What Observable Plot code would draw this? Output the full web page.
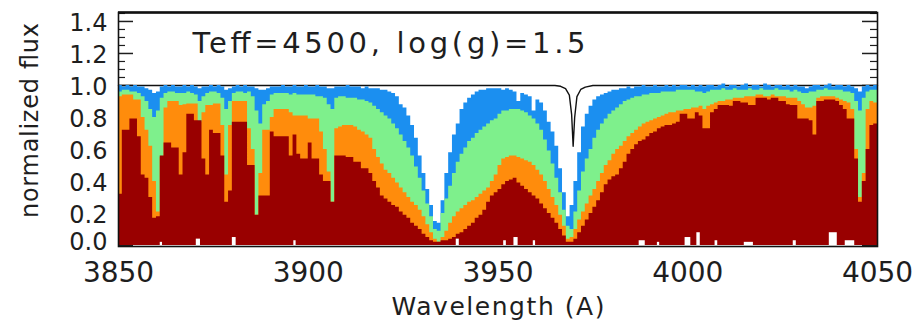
<!DOCTYPE html>
<html><head><meta charset="utf-8">
<script src="https://cdn.jsdelivr.net/npm/d3@7"></script>
<script src="https://cdn.jsdelivr.net/npm/@observablehq/plot@0.6"></script>
<style>body{margin:0;background:#fff}#chart svg{display:block}</style>
</head><body><div id="chart"></div>
<script>
// wavelength grid (Angstrom), one sample per Angstrom from 3850 to 4050
const waveStart = 3850, waveStep = 1;

// four model spectra (normalized flux)
const blueFlux = [
1.00,0.99,1.00,0.99,1.00,0.99,0.99,0.98,0.97,0.95, 0.96,0.99,1.00,0.99,1.00,0.99,0.99,1.00,0.99,1.00,
0.99,0.98,0.99,0.99,1.00,0.99,1.00,0.99,0.97,0.98, 0.99,1.00,0.99,1.00,0.99,0.99,0.98,0.97,0.97,0.98,
0.99,0.99,0.99,1.00,0.99,0.99,1.00,0.99,0.99,1.00, 0.99,0.99,1.00,0.99,0.99,0.98,0.98,0.99,0.99,0.99,
1.00,0.99,0.99,0.99,0.98,0.99,0.98,0.98,0.98,0.97, 0.97,0.96,0.95,0.93,0.88,0.86,0.81,0.75,0.67,0.56,
0.45,0.35,0.25,0.15,0.14,0.28,0.45,0.58,0.69,0.76, 0.85,0.89,0.92,0.94,0.96,0.97,0.97,0.98,0.98,0.98,
0.98,0.97,0.98,0.97,0.96,0.90,0.95,0.94,0.93,0.84, 0.91,0.89,0.84,0.77,0.71,0.62,0.48,0.33,0.18,0.25,
0.40,0.58,0.74,0.82,0.87,0.91,0.93,0.94,0.95,0.96, 0.97,0.97,0.98,0.98,0.99,0.98,0.99,0.99,1.00,0.99,
0.99,1.00,0.99,0.99,1.00,0.99,1.00,0.99,1.00,1.00, 0.99,1.00,0.99,1.00,0.99,1.00,1.00,0.99,1.00,1.01,
0.99,1.00,1.00,0.99,1.00,1.01,0.99,1.00,1.00,0.99, 1.01,1.00,0.99,1.00,1.00,0.99,1.00,0.99,1.00,0.99,
0.99,0.98,0.99,1.00,1.00,0.99,1.00,1.01,0.99,1.00, 1.00,0.99,1.00,0.99,0.98,0.96,0.99,1.00,0.99,1.00,
1.00];
const greenFlux = [
0.96,0.97,0.97,0.96,0.96,0.95,0.93,0.90,0.85,0.80, 0.84,0.92,0.95,0.96,0.96,0.95,0.95,0.95,0.96,0.95,
0.94,0.90,0.93,0.95,0.96,0.96,0.95,0.92,0.85,0.90, 0.95,0.96,0.96,0.95,0.96,0.93,0.84,0.76,0.88,0.90,
0.94,0.95,0.95,0.95,0.95,0.94,0.95,0.94,0.94,0.94, 0.94,0.94,0.93,0.93,0.92,0.88,0.85,0.92,0.93,0.93,
0.92,0.92,0.92,0.91,0.91,0.90,0.89,0.87,0.85,0.83, 0.81,0.79,0.76,0.73,0.69,0.65,0.61,0.56,0.49,0.42,
0.34,0.26,0.18,0.10,0.09,0.20,0.29,0.37,0.45,0.52, 0.57,0.61,0.65,0.67,0.70,0.72,0.74,0.76,0.78,0.79,
0.82,0.84,0.84,0.85,0.85,0.85,0.84,0.83,0.81,0.79, 0.76,0.72,0.66,0.59,0.51,0.42,0.33,0.22,0.12,0.10,
0.21,0.34,0.46,0.54,0.60,0.67,0.72,0.76,0.79,0.82, 0.84,0.86,0.88,0.90,0.91,0.92,0.93,0.93,0.94,0.94,
0.95,0.95,0.95,0.96,0.96,0.96,0.96,0.97,0.97,0.97, 0.97,0.97,0.96,0.96,0.95,0.96,0.97,0.97,0.97,0.98,
0.97,0.97,0.98,0.97,0.97,0.97,0.98,0.97,0.97,0.98, 0.97,0.97,0.97,0.98,0.97,0.97,0.97,0.96,0.97,0.96,
0.95,0.95,0.96,0.96,0.97,0.97,0.98,0.97,0.97,0.97, 0.97,0.96,0.96,0.95,0.90,0.84,0.92,0.96,0.97,0.97,
0.96];
const orangeFlux = [
0.93,0.94,0.94,0.94,0.91,0.91,0.80,0.72,0.62,0.40, 0.21,0.55,0.86,0.90,0.90,0.90,0.875,0.88,0.885,0.885,
0.885,0.77,0.83,0.875,0.875,0.885,0.885,0.75,0.44,0.75, 0.90,0.90,0.90,0.90,0.73,0.60,0.19,0.45,0.72,0.72,
0.80,0.85,0.85,0.85,0.85,0.83,0.81,0.81,0.81,0.81, 0.79,0.79,0.79,0.71,0.60,0.46,0.27,0.73,0.74,0.75,
0.75,0.75,0.74,0.72,0.71,0.69,0.67,0.60,0.55,0.51, 0.47,0.45,0.42,0.39,0.36,0.33,0.30,0.27,0.25,0.22,
0.18,0.13,0.08,0.04,0.02,0.05,0.09,0.14,0.18,0.21, 0.23,0.25,0.27,0.28,0.30,0.32,0.34,0.36,0.40,0.44,
0.50,0.54,0.55,0.56,0.56,0.55,0.54,0.53,0.52,0.50, 0.47,0.44,0.40,0.35,0.30,0.25,0.19,0.12,0.04,0.05,
0.10,0.16,0.21,0.26,0.31,0.35,0.40,0.45,0.50,0.53, 0.57,0.60,0.62,0.65,0.68,0.70,0.72,0.74,0.76,0.77,
0.78,0.79,0.80,0.81,0.82,0.83,0.83,0.84,0.84,0.85, 0.85,0.86,0.86,0.87,0.85,0.87,0.88,0.89,0.90,0.90,
0.91,0.91,0.92,0.92,0.92,0.93,0.93,0.93,0.94,0.94, 0.93,0.93,0.94,0.93,0.93,0.93,0.92,0.92,0.92,0.90,
0.88,0.86,0.86,0.87,0.92,0.93,0.93,0.93,0.93,0.92, 0.91,0.90,0.89,0.85,0.60,0.30,0.45,0.85,0.90,0.89,
0.89];
const redFlux = [
0.32,0.72,0.72,0.79,0.79,0.68,0.44,0.42,0.30,0.17, 0.18,0.56,0.64,0.64,0.61,0.61,0.44,0.58,0.82,0.82,
0.78,0.78,0.54,0.44,0.72,0.70,0.70,0.56,0.27,0.34, 0.77,0.77,0.77,0.77,0.50,0.50,0.19,0.31,0.31,0.31,
0.71,0.68,0.68,0.68,0.68,0.56,0.69,0.57,0.54,0.54, 0.64,0.54,0.54,0.44,0.40,0.40,0.27,0.56,0.56,0.56,
0.55,0.55,0.52,0.52,0.48,0.48,0.45,0.40,0.36,0.31, 0.29,0.27,0.25,0.24,0.21,0.19,0.17,0.14,0.12,0.10,
0.07,0.05,0.03,0.02,0.02,0.03,0.03,0.04,0.05,0.07, 0.08,0.10,0.12,0.14,0.17,0.19,0.22,0.27,0.31,0.33,
0.35,0.38,0.40,0.41,0.42,0.39,0.37,0.35,0.33,0.31, 0.29,0.26,0.23,0.20,0.17,0.14,0.10,0.06,0.02,0.02,
0.04,0.08,0.12,0.16,0.20,0.24,0.28,0.33,0.38,0.41, 0.43,0.44,0.48,0.52,0.57,0.60,0.63,0.65,0.66,0.68,
0.70,0.71,0.73,0.74,0.75,0.75,0.76,0.77,0.82,0.82, 0.79,0.79,0.83,0.81,0.73,0.73,0.83,0.85,0.875,0.875,
0.875,0.87,0.90,0.90,0.89,0.89,0.875,0.875,0.92,0.92, 0.92,0.91,0.92,0.92,0.90,0.90,0.88,0.875,0.875,0.79,
0.79,0.79,0.78,0.69,0.90,0.90,0.91,0.91,0.91,0.90, 0.875,0.85,0.79,0.79,0.54,0.27,0.40,0.60,0.75,0.76,
0.76];

// comparison spectrum (black line): wavelength / flux
const blackWave = [3850, 3965, 3966.5, 3967.8, 3968.8, 3969.4, 3969.8, 3970.2, 3970.8, 3971.8, 3973, 3975, 4050];
const blackFlux = [1.0, 1.0, 0.995, 0.98, 0.94, 0.82, 0.62, 0.80, 0.93, 0.975, 0.99, 1.0, 1.0];

// small white gaps at the base of the spectra: start, end, height
const gapStart = [3861.0, 3870.5, 3880.0, 3896.2, 3939.0, 3951.5, 3954.2, 3959.3, 3987.2, 3992.0, 3999.3, 4002.4, 4007.2, 4014.9, 4027.8, 4037.3, 4041.5];
const gapEnd   = [3861.6, 3871.6, 3881.0, 3896.8, 3939.8, 3952.2, 3955.3, 3959.9, 3988.8, 3992.6, 4000.8, 4003.3, 4007.9, 4017.3, 4028.6, 4039.4, 4044.0];
const gapTop   = [0.02, 0.04, 0.05, 0.03, 0.04, 0.03, 0.05, 0.03, 0.03, 0.02, 0.05, 0.08, 0.03, 0.02, 0.03, 0.08, 0.03];

const xTicks = [3850, 3900, 3950, 4000, 4050];
const yTicks = [0.0, 0.2, 0.4, 0.6, 0.8, 1.0, 1.2, 1.4];
const yMinor = [0.05,0.1,0.15,0.25,0.3,0.35,0.45,0.5,0.55,0.65,0.7,0.75,0.85,0.9,0.95,1.05,1.1,1.15,1.25,1.3,1.35,1.45];
const title = ["Teff=4500, log(g)=1.5"];
const xLabel = ["Wavelength (A)"];
const yLabel = ["normalized flux"];

const seriesColors = {blue: "#1b8ff0", green: "#7ef08c", orange: "#ff8c0c", red: "#990000"};

const wave = redFlux.map((_, i) => waveStart + i * waveStep);
const rows = (arr) => arr.map((f, i) => ({w: wave[i], f}));
const blackRows = blackWave.map((w, i) => ({w, f: blackFlux[i]}));
const gaps = gapStart.map((a, i) => ({a, b: gapEnd[i], h: gapTop[i]}));

const FONT = "DejaVu Sans";
const yDomainTop = 1.456;
const INK = "#1e1e1e";

const plot = Plot.plot({
  width: 912, height: 321,
  marginLeft: 118, marginRight: 35, marginTop: 12, marginBottom: 75,
  style: {fontFamily: FONT, color: INK, background: "white"},
  x: {domain: [3850, 4050]},
  y: {domain: [-0.006, yDomainTop]},
  marks: [
    // inward ticks on both vertical axes (drawn under the spectra, as in the reference)
    Plot.axisY({ticks: yTicks, tickSize: -15, tickFormat: () => "", label: null, strokeWidth: 1.5}),
    Plot.axisY({ticks: yMinor, tickSize: -7, tickFormat: () => "", label: null, strokeWidth: 1.2}),
    Plot.axisY({anchor: "right", ticks: yTicks, tickSize: -16, tickFormat: () => "", label: null, strokeWidth: 1.5}),
    Plot.axisY({anchor: "right", ticks: yMinor, tickSize: -8, tickFormat: () => "", label: null, strokeWidth: 1.2}),
    Plot.line(blackRows, {x: "w", y: "f", stroke: "#111", strokeWidth: 1.4}),
    Plot.areaY(rows(blueFlux), {x: "w", y: "f", fill: seriesColors.blue, curve: "step-after"}),
    Plot.areaY(rows(greenFlux), {x: "w", y: "f", fill: seriesColors.green, curve: "step-after"}),
    Plot.areaY(rows(orangeFlux), {x: "w", y: "f", fill: seriesColors.orange, curve: "step-after"}),
    Plot.areaY(rows(redFlux), {x: "w", y: "f", fill: seriesColors.red, curve: "step-after"}),
    Plot.rectY(gaps, {x1: "a", x2: "b", y: "h", fill: "white"}),
    Plot.axisX({ticks: xTicks, tickSize: 0, tickPadding: 16, fontSize: 28, label: null, tickFormat: d => String(d)}),
    Plot.axisY({ticks: yTicks.slice(1), tickSize: 0, tickPadding: 11, fontSize: 24, label: null, dy: 2, tickFormat: d => d.toFixed(1)}),
    Plot.axisY({ticks: yTicks.slice(0, 1), tickSize: 0, tickPadding: 11, fontSize: 24, label: null, dy: -3, tickFormat: d => d.toFixed(1)}),
    Plot.frame({stroke: "#111", strokeWidth: 1.6}),
    Plot.ruleY([yDomainTop], {stroke: "#111", strokeWidth: 2.6}),
    Plot.text(title, {frameAnchor: "top-left", dx: 74, dy: 31, textAnchor: "start", lineAnchor: "middle", fontSize: 29, fill: INK}),
    Plot.text(xLabel, {frameAnchor: "bottom", dy: 60, textAnchor: "middle", lineAnchor: "middle", fontSize: 25, fill: INK}),
    Plot.text(yLabel, {frameAnchor: "left", dx: -88, dy: -9, rotate: -90, textAnchor: "middle", lineAnchor: "middle", fontSize: 24, fill: INK})
  ]
});
document.getElementById("chart").appendChild(plot);

// stretch a few labels to the measured widths of the reference
const widths = {"Teff=4500, log(g)=1.5": 393, "Wavelength (A)": 213, "normalized flux": 195};
plot.querySelectorAll("text").forEach(t => {
  const s = t.textContent;
  if (widths[s]) { t.setAttribute("textLength", widths[s]); t.setAttribute("lengthAdjust", "spacing"); }
});
</script>
</body></html>
